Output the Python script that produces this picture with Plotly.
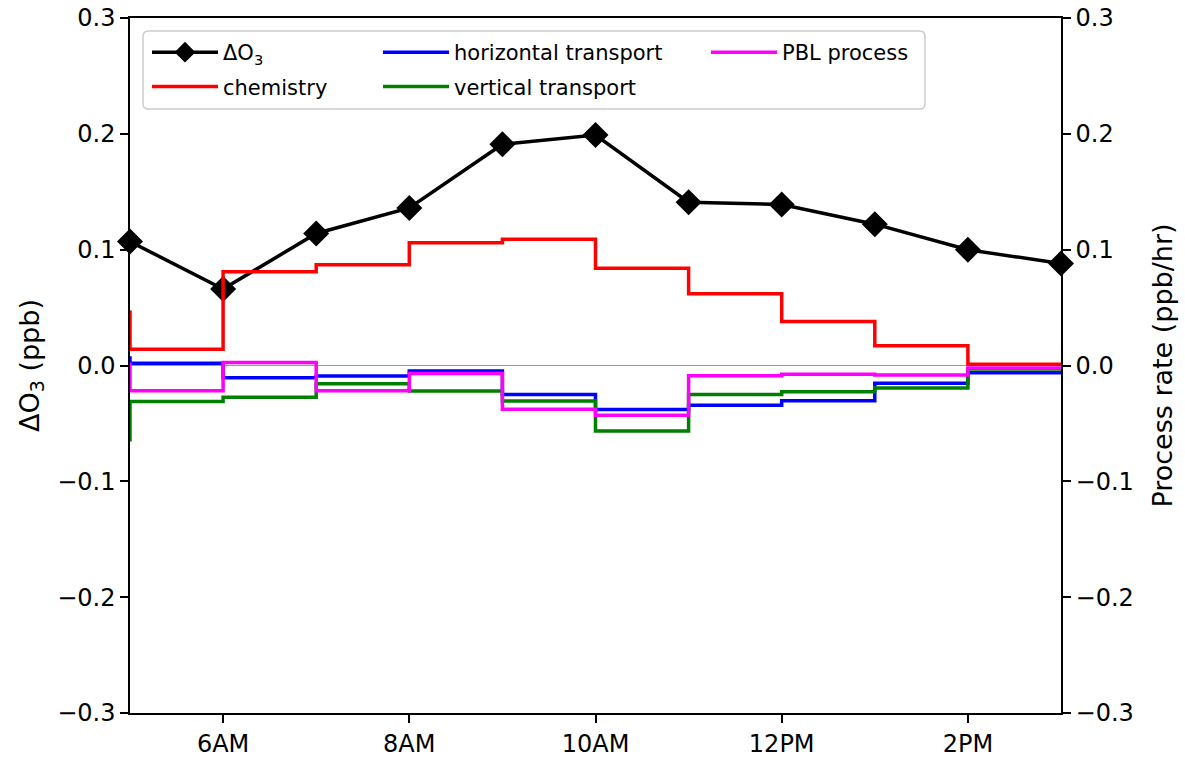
import plotly.graph_objects as go

# --- data ---
hours_o3 = [5, 6, 7, 8, 9, 10, 11, 12, 13, 14, 15]
delta_o3 = [0.107, 0.066, 0.114, 0.136, 0.191, 0.199, 0.141, 0.139, 0.122, 0.100, 0.088]

hours_rate = [4, 5, 6, 7, 8, 9, 10, 11, 12, 13, 14, 15]
chemistry = [0.046, 0.014, 0.081, 0.087, 0.106, 0.109, 0.084, 0.062, 0.038, 0.017, 0.001, 0.001]
horizontal = [0.0065, 0.002, -0.0105, -0.009, -0.0047, -0.025, -0.038, -0.0344, -0.0304, -0.0154, -0.0062, -0.0062]
vertical = [-0.064, -0.031, -0.0275, -0.0157, -0.022, -0.0307, -0.0566, -0.025, -0.0226, -0.0194, -0.003, -0.003]
pbl = [0.001, -0.0217, 0.0025, -0.0217, -0.0068, -0.0378, -0.043, -0.0088, -0.0076, -0.0082, -0.0022, -0.0022]

tick_hours = [6, 8, 10, 12, 14]
tick_labels = ["6AM", "8AM", "10AM", "12PM", "2PM"]
y_ticks = [-0.3, -0.2, -0.1, 0.0, 0.1, 0.2, 0.3]

FONT = "DejaVu Sans"
W, H = 1185, 757
# plot box in screen pixels
SL, SR, ST, SB = 130, 1061, 18, 713
L, R, T, B = SL, W - SR, ST, H - SB
pw, ph = SR - SL, SB - ST

def px(x):
    return (x - SL) / pw

def py(y):
    return 1 - (y - ST) / ph

fig = go.Figure()

fig.add_trace(go.Scatter(
    x=hours_o3, y=delta_o3, mode="lines+markers", name="ΔO<sub>3</sub>",
    line=dict(color="black", width=3.5),
    marker=dict(symbol="diamond", size=20, color="black"),
    yaxis="y", legend="legend", legendgroup="a", cliponaxis=False,
))

step_series = [
    ("chemistry", chemistry, "#ff0000", "legend", "b"),
    ("horizontal transport", horizontal, "#0000ff", "legend2", "c"),
    ("vertical transport", vertical, "#008000", "legend2", "d"),
    ("PBL process", pbl, "#ff00ff", "legend3", "e"),
]
for name, vals, col, leg, grp in step_series:
    fig.add_trace(go.Scatter(
        x=hours_rate, y=vals, mode="lines", name=name,
        line=dict(color=col, width=3.5, shape="hv"),
        yaxis="y2", legend=leg, legendgroup=grp,
    ))

axis_common = dict(
    range=[-0.3, 0.3], tickvals=y_ticks, tickformat=".1f",
    ticks="outside", ticklen=8, tickwidth=1.5, tickcolor="black",
    showline=True, linecolor="black", linewidth=1.5,
    showgrid=False, tickfont=dict(family=FONT, size=24, color="black"),
    ticklabeloverflow="allow",
)

fig.update_layout(
    width=W, height=H,
    margin=dict(l=L, r=R, t=T, b=B, autoexpand=False),
    paper_bgcolor="white", plot_bgcolor="white",
    font=dict(family=FONT, color="black"),
    xaxis=dict(
        range=[5, 15], tickvals=tick_hours, ticktext=tick_labels,
        ticks="outside", ticklen=8, tickwidth=1.5, tickcolor="black",
        showline=True, linecolor="black", linewidth=1.5, mirror=True,
        showgrid=False, zeroline=False, ticklabeloverflow="allow",
        tickfont=dict(family=FONT, size=24, color="black"),
    ),
    yaxis=dict(
        **axis_common,
        zeroline=True, zerolinecolor="#999999", zerolinewidth=1,
        title=dict(text="ΔO<sub>3</sub> (ppb)", font=dict(family=FONT, size=27, color="black"), standoff=10),
    ),
    yaxis2=dict(
        **axis_common,
        overlaying="y", side="right", zeroline=False,
        title=dict(text="Process rate (ppb/hr)", font=dict(family=FONT, size=27, color="black"), standoff=20),
    ),
    showlegend=True,
)

leg_common = dict(
    bgcolor="rgba(0,0,0,0)", borderwidth=0,
    font=dict(family=FONT, size=21, color="black"),
    orientation="v", xanchor="left", yanchor="top",
    traceorder="grouped", tracegroupgap=4, itemwidth=66,
)
fig.update_layout(
    legend=dict(**leg_common, x=px(147), y=py(32)),
    legend2=dict(**leg_common, x=px(378), y=py(32)),
    legend3=dict(**leg_common, x=px(706), y=py(32)),
)

# legend frame (rounded box)
x0, x1, y0, y1, r = px(143), px(925), py(31), py(109), 0.006
ry = r * pw / ph
fig.add_shape(
    type="path", xref="paper", yref="paper",
    path=(f"M {x0 + r},{y0} L {x1 - r},{y0} Q {x1},{y0} {x1},{y0 - ry} "
          f"L {x1},{y1 + ry} Q {x1},{y1} {x1 - r},{y1} L {x0 + r},{y1} "
          f"Q {x0},{y1} {x0},{y1 + ry} L {x0},{y0 - ry} Q {x0},{y0} {x0 + r},{y0} Z"),
    line=dict(color="#cccccc", width=1.5), fillcolor="rgba(255,255,255,0.8)", layer="above",
)

fig.write_html(
    "out.html",
    config={"displayModeBar": False},
    post_script="document.body.style.margin='0';document.body.style.overflow='hidden';",
)
